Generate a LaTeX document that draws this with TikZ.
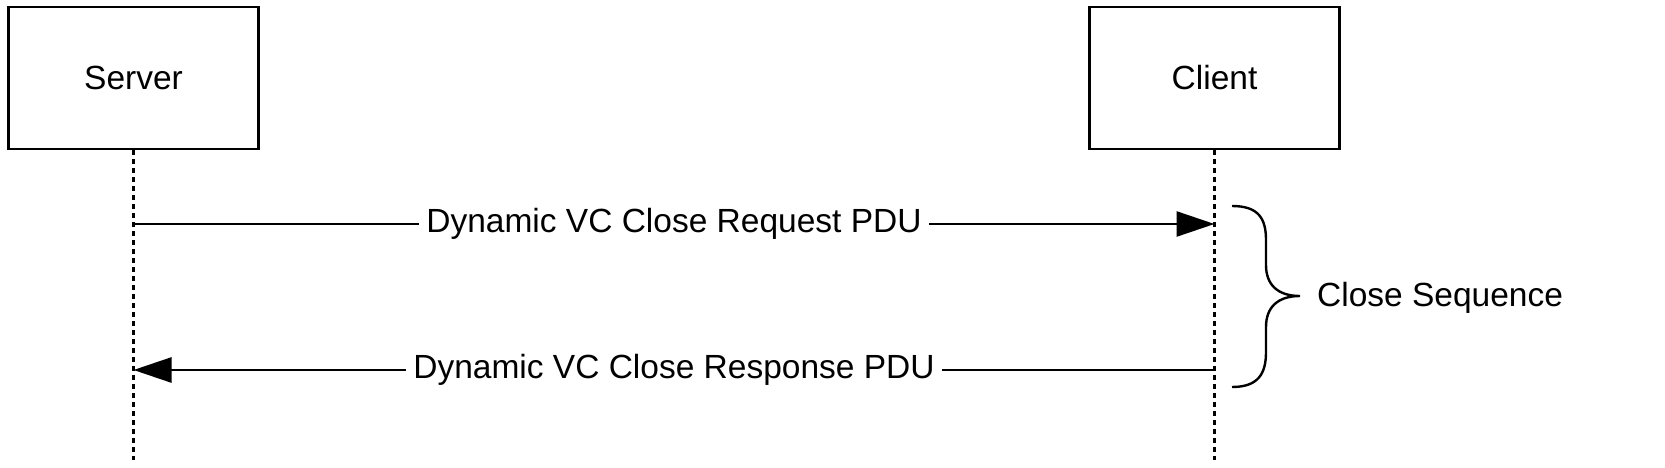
\documentclass[tikz,border=0pt]{standalone}
\usepackage{fontspec}
\setmainfont{Liberation Sans}
\usetikzlibrary{arrows.meta}
\begin{document}
\begin{tikzpicture}[x=1pt,y=-1pt,
  actor/.style={draw, line width=2.7pt, minimum width=250pt, minimum height=142pt, inner sep=0pt, font=\fontsize{33.5}{40}\selectfont},
  lifeline/.style={line width=2.2pt, dash pattern=on 5pt off 4pt},
  msg/.style={line width=2.6pt, -{Triangle[length=38pt,width=25pt]}},
  msglabel/.style={midway, fill=white, inner xsep=7pt, inner ysep=4pt, font=\fontsize{33.5}{40}\selectfont},
  bracestyle/.style={line width=2.4pt},
  sidelabel/.style={anchor=west, inner sep=0pt, font=\fontsize{33.5}{40}\selectfont}]
\useasboundingbox (0,0) rectangle (1665,468);
\fill[white] (0,0) rectangle (1665,468);
\node[actor] (srv) at (133.5,78) {Server};
\node[actor] (cli) at (1214.5,78) {Client};
\coordinate (sEnd) at (133.5,460);
\coordinate (cEnd) at (1214.5,460);
\draw[lifeline] (srv.south) -- (sEnd);
\draw[lifeline] (cli.south) -- (cEnd);
\coordinate (s1) at (133.5,224);
\coordinate (c1) at (1214.5,224);
\coordinate (s2) at (133.5,370);
\coordinate (c2) at (1214.5,370);
\draw[msg] (s1) -- node[msglabel] (l1) {Dynamic VC Close Request PDU} (c1);
\draw[msg] (c2) -- node[msglabel] (l2) {Dynamic VC Close Response PDU} (s2);
\draw[bracestyle] (1232,206) .. controls (1258,206) and (1266,218) .. (1266,240) -- (1266,265)
  .. controls (1266,285) and (1278,296) .. (1300,296)
  .. controls (1278,296) and (1266,307) .. (1266,327) -- (1266,352)
  .. controls (1266,374) and (1258,387) .. (1232,387);
\node[sidelabel] (cs) at (1317,298) {Close Sequence};
\end{tikzpicture}
\end{document}
